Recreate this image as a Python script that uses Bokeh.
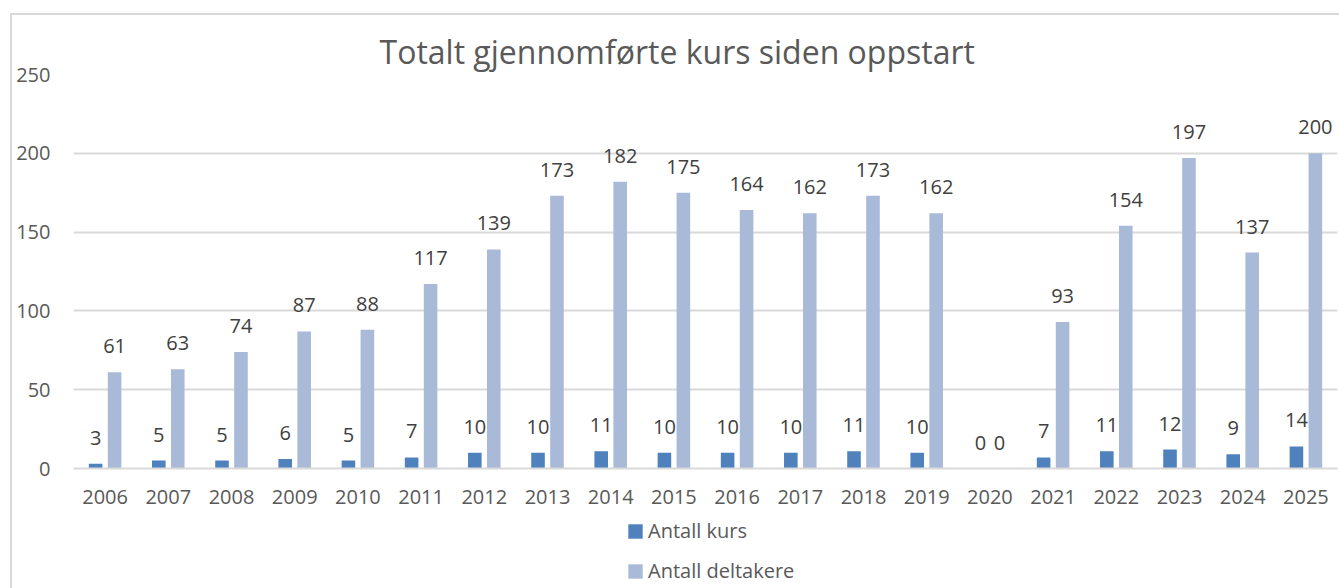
from bokeh.plotting import figure
from bokeh.layouts import column
from bokeh.models import ColumnDataSource, Legend, LegendItem, FactorRange, Range1d
from bokeh.core.properties import value
from bokeh.transform import dodge
from bokeh.embed import file_html
from bokeh.resources import INLINE

years = [str(y) for y in range(2006, 2026)]
antall_kurs = [3, 5, 5, 6, 5, 7, 10, 10, 11, 10, 10, 10, 11, 10, 0, 7, 11, 12, 9, 14]
antall_deltakere = [61, 63, 74, 87, 88, 117, 139, 173, 182, 175, 164, 162, 173, 162, 0, 93, 154, 197, 137, 200]
y_ticks = [0, 50, 100, 150, 200, 250]
series_names = ["Antall kurs", "Antall deltakere"]

DARK = "#4F81BD"
LIGHT = "#A9BAD9"
FONT = "Open Sans"
TXT = "#595959"

src = ColumnDataSource(dict(
    year=years,
    kurs=antall_kurs,
    delt=antall_deltakere,
    kurs_lbl=[str(v) for v in antall_kurs],
    delt_lbl=[str(v) for v in antall_deltakere],
))

xr = FactorRange(*years)
p = figure(x_range=xr, y_range=(0, 250),
           width=1327, height=501, output_backend="svg", toolbar_location=None,
           min_border_left=61, min_border_right=2, min_border_top=59, min_border_bottom=48)

p.vbar(x=dodge("year", -0.15, range=xr), top="kurs", width=0.215,
       source=src, fill_color=DARK, line_color=None)
p.vbar(x=dodge("year", 0.15, range=xr), top="delt", width=0.215,
       source=src, fill_color=LIGHT, line_color=None)

p.text(x=dodge("year", -0.15, range=xr), y="kurs", text="kurs_lbl", source=src,
       text_align="center", text_baseline="middle", y_offset=-26,
       text_font=value(FONT), text_font_size="20px", text_color="#404040")
p.text(x=dodge("year", 0.15, range=xr), y="delt", text="delt_lbl", source=src,
       text_align="center", text_baseline="middle", y_offset=-26,
       text_font=value(FONT), text_font_size="20px", text_color="#404040")

p.title.text = "Totalt gjennomførte kurs siden oppstart"
p.title.align = "left"
p.title.offset = 306
p.title.text_font = FONT
p.title.text_font_size = "32px"
p.title.text_font_style = "normal"
p.title.text_color = TXT
p.title.standoff = 3

for ax in (p.xaxis, p.yaxis):
    ax.major_tick_line_color = None
    ax.minor_tick_line_color = None
    ax.major_tick_out = 0
    ax.major_tick_in = 0
    ax.minor_tick_out = 0
    ax.minor_tick_in = 0
    ax.major_label_text_font = FONT
    ax.major_label_text_font_size = "20px"
    ax.major_label_text_color = TXT

p.yaxis.ticker = y_ticks
p.yaxis.axis_line_color = None
p.yaxis.major_label_standoff = 23

p.xaxis.axis_line_color = "#d9d9d9"
p.xaxis.axis_line_width = 2
p.xaxis.major_label_standoff = 21

p.xgrid.grid_line_color = None
p.ygrid.grid_line_color = "#d9d9d9"
p.ygrid.grid_line_width = 2
p.outline_line_color = None

# legend strip below the chart (its own bars lie outside its visible y range)
leg = figure(width=1327, height=72, x_range=xr, y_range=Range1d(1000, 1001),
             x_axis_type=None, y_axis_type=None, output_backend="svg",
             toolbar_location=None, min_border=0)
leg.grid.visible = False
leg.outline_line_color = None
lr1 = leg.vbar(x=dodge("year", -0.15, range=xr), top="kurs", width=0.215,
               source=src, fill_color=DARK, line_color=None)
lr2 = leg.vbar(x=dodge("year", 0.15, range=xr), top="delt", width=0.215,
               source=src, fill_color=LIGHT, line_color=None)
legend = Legend(items=[LegendItem(label=series_names[0], renderers=[lr1]),
                       LegendItem(label=series_names[1], renderers=[lr2])],
                orientation="vertical", location=(553, 4),
                glyph_width=18, glyph_height=18, label_standoff=4, spacing=13,
                label_text_font=FONT, label_text_font_size="20px", label_text_color=TXT,
                border_line_color=None, background_fill_alpha=0, padding=0, margin=0)
leg.add_layout(legend, "center")

layout = column(p, leg, spacing=0)
layout.styles = {"margin-left": "10px", "margin-top": "13px",
                 "border-left": "2px solid #d9d9d9", "border-top": "2px solid #d9d9d9"}

open("out.html", "w").write(file_html(layout, INLINE))
